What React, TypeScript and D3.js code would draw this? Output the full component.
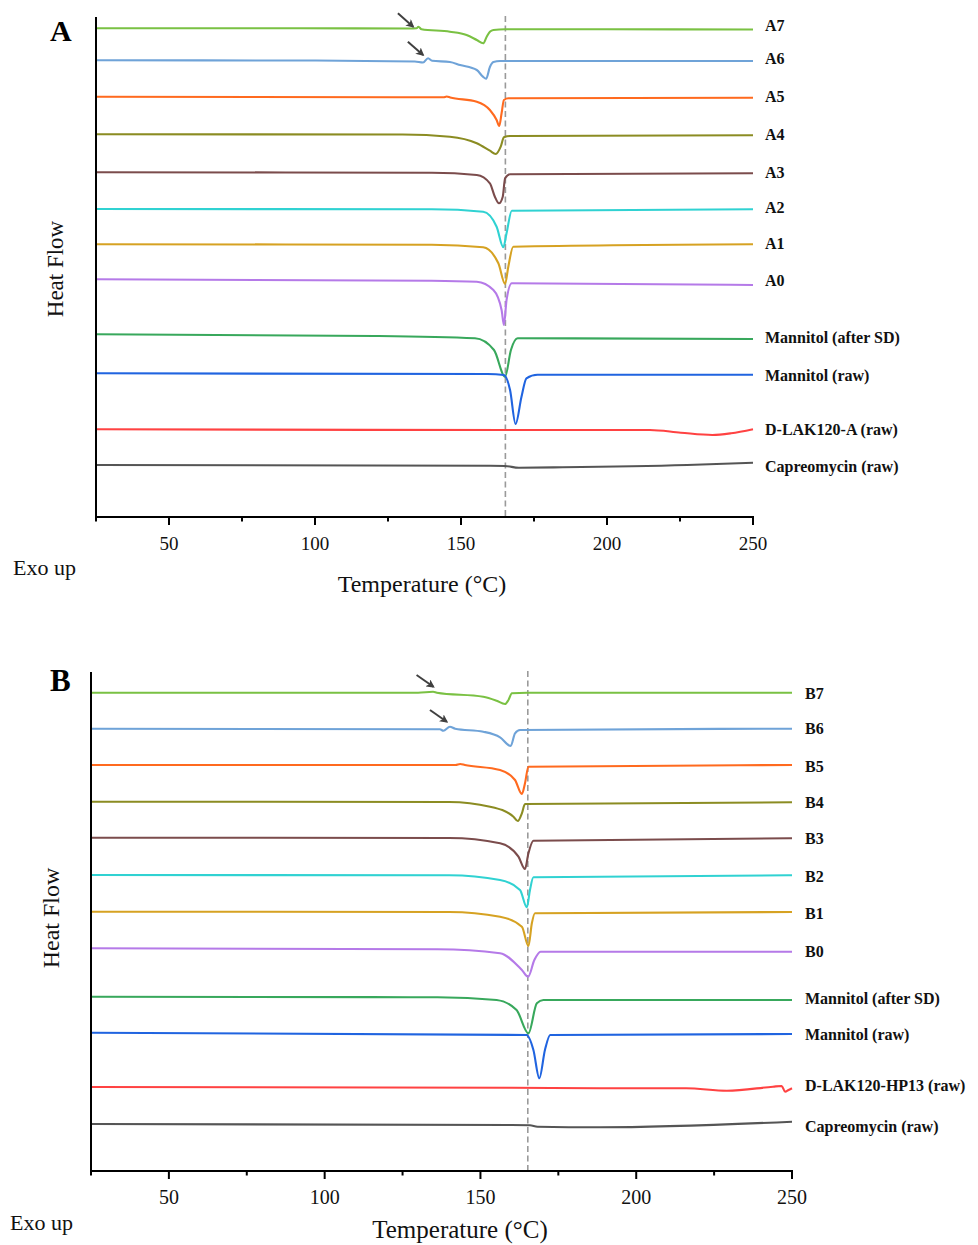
import React from 'react';
import * as d3 from 'd3';

type Pt = [number, number];

// ---------- data ----------
const majorTicks = [50, 100, 150, 200, 250];
const minorTicks = [25, 75, 125, 175, 225];
const tempDomain: [number, number] = [25, 250];
const meltingRefTemp = 165.2;

const seriesColors = [
  '#7ac143', '#6fa3d8', '#ff6a1f', '#8b8c22', '#7b4c4c', '#30d2d2',
  '#d6a222', '#b57ae8', '#38a85c', '#2064e0', '#ff4242', '#555555',
];

const labelsA = ['A7', 'A6', 'A5', 'A4', 'A3', 'A2', 'A1', 'A0',
  'Mannitol (after SD)', 'Mannitol (raw)', 'D-LAK120-A (raw)', 'Capreomycin (raw)'];
const labelsB = ['B7', 'B6', 'B5', 'B4', 'B3', 'B2', 'B1', 'B0',
  'Mannitol (after SD)', 'Mannitol (raw)', 'D-LAK120-HP13 (raw)', 'Capreomycin (raw)'];

// Panel A curves: [temperature °C, heat flow (a.u., stacked)]
const a7: Pt[] = [[25, 488.7], [95, 488.7], [132.5, 488.5], [134.8, 488.7], [135.4, 490.3], [136.5, 487.7], [146.2, 485.3], [151.9, 482], [155.4, 477], [157.6, 473.7], [158.8, 480.3], [159.9, 485.3], [161.1, 487], [165.1, 487.7], [200, 487.7], [250, 487.5]];
const a6: Pt[] = [[25, 456.7], [95, 456.5], [134.2, 455.5], [137, 454.5], [138.7, 458.7], [140.1, 456.2], [146.2, 455], [149.7, 452], [155.4, 447], [157.5, 440.3], [158.6, 438.3], [159.9, 450], [161.1, 455], [163.4, 456], [250, 456]];
const a5: Pt[] = [[25, 420.3], [130, 419.7], [144, 419.7], [145.1, 420.5], [146.3, 419.5], [155.4, 415.3], [159.9, 407], [162.2, 397], [163.1, 391], [163.9, 403.7], [164.7, 417], [166.2, 418.7], [250, 419.3]];
const a4: Pt[] = [[25, 382.7], [130, 382.5], [146.2, 380.3], [155.4, 373.7], [159.9, 366.3], [161.9, 363], [163.6, 370.3], [164.7, 379.7], [166.8, 381], [250, 381.7]];
const a3: Pt[] = [[25, 344.7], [140, 344.3], [155.4, 342], [159.9, 333.7], [161.6, 320.3], [163, 313.7], [164.3, 320.3], [165.1, 338.7], [166.8, 342.7], [250, 343.7]];
const a2: Pt[] = [[25, 308], [140, 307.7], [157.6, 305.3], [162.2, 290.3], [164.5, 269.7], [165.6, 283.7], [167.4, 306.3], [250, 307.7]];
const a1: Pt[] = [[25, 272.7], [140, 272.3], [157.6, 269.7], [162.8, 253.7], [165.1, 233], [166.2, 250.3], [167.9, 270.3], [250, 272.7]];
const a0: Pt[] = [[25, 237.7], [140, 236.3], [155.4, 235.3], [161.1, 227], [163.9, 207], [164.7, 192], [165.6, 217], [167.4, 233.7], [250, 232]];
const aManSD: Pt[] = [[25, 182.7], [120.5, 181], [154.8, 178.7], [161.3, 167], [165.1, 140.3], [167.1, 167], [169.4, 178.7], [250, 178]];
const aManRaw: Pt[] = [[25, 143.7], [159.1, 143], [164.7, 142], [166.8, 127], [168.7, 93], [170.7, 120], [172.4, 138.7], [176.2, 142.3], [250, 142.3]];
const aLak: Pt[] = [[25, 87.7], [165, 87], [214.7, 87], [225.3, 84.3], [236.1, 82], [242.5, 83.7], [250, 87.7]];
const aCap: Pt[] = [[25, 52], [160, 51.2], [165.1, 51], [169.8, 49.3], [184.8, 49.7], [227.5, 52], [250, 54.3]];

// Panel B curves
const b7: Pt[] = [[25, 477.3], [130, 477.3], [134.8, 478.2], [136, 477.3], [150.9, 473.3], [155.2, 469.3], [157.9, 466], [159, 470], [160.1, 476.7], [165, 477.3], [250, 477.3]];
const b6: Pt[] = [[25, 441.3], [137, 440.7], [138.1, 439.3], [140.2, 443.3], [141.9, 441.3], [150.9, 438.3], [156.3, 432.7], [159.7, 424], [161.1, 436.7], [162.7, 440], [250, 441.3]];
const b5: Pt[] = [[25, 405], [142, 405], [143.5, 406], [145, 405], [156.3, 400], [161.1, 390], [163.3, 376], [164.3, 386.7], [165.4, 403.3], [250, 405]];
const b4: Pt[] = [[25, 368.3], [140, 368], [153.1, 363.3], [160.6, 353.3], [162, 349], [163.3, 356.7], [164.3, 366], [250, 367.7]];
const b3: Pt[] = [[25, 332.3], [140, 332], [156.3, 326.7], [162.2, 313.3], [164.3, 301], [165.4, 316.7], [167, 329.3], [250, 331.7]];
const b2: Pt[] = [[25, 295], [140, 294.7], [156.3, 290], [162.7, 280], [164.9, 262.7], [165.9, 280], [167, 292.7], [250, 294.7]];
const b1: Pt[] = [[25, 258.3], [140, 258], [156.3, 253.3], [163.3, 243.3], [165.4, 224], [166.5, 246.7], [167.5, 256.7], [250, 258]];
const b0: Pt[] = [[25, 221.7], [136.2, 220.7], [156.3, 216.7], [163.3, 200], [165.3, 193.3], [167.3, 210], [169.3, 218.3], [250, 218.3]];
const bManSD: Pt[] = [[25, 173.3], [136.2, 172.7], [155.2, 170], [161.6, 160], [165.4, 136.7], [168.1, 166.7], [170.2, 170], [250, 170]];
const bManRaw: Pt[] = [[25, 137.3], [164.8, 135], [167, 120], [168.9, 91.7], [170.7, 120], [172.4, 135], [250, 136]];
const bLak: Pt[] = [[25, 83], [160, 82.3], [188.4, 81.7], [216, 81.7], [229.1, 79.3], [243.9, 83.3], [246.7, 84], [247.8, 78.3], [248.9, 80], [250, 81.7]];
const bCap: Pt[] = [[25, 46], [160, 45], [165.9, 44.7], [168.3, 43.3], [188.4, 42.7], [250, 48.3]];

const seriesA = [a7, a6, a5, a4, a3, a2, a1, a0, aManSD, aManRaw, aLak, aCap];
const seriesB = [b7, b6, b5, b4, b3, b2, b1, b0, bManSD, bManRaw, bLak, bCap];

// arrows marking the small exothermic events: [tail, tip]
const arrowsA: [Pt, Pt][] = [[[128.4, 503.7], [133.6, 490.3]], [[131.8, 475.3], [137, 462]]];
const arrowsB: [Pt, Pt][] = [[[129.5, 495], [134.9, 483.3]], [[133.8, 460], [139.2, 448.3]]];

// ---------- layout ----------
const FONT = "'Liberation Serif', 'Times New Roman', Times, serif";

interface PanelCfg {
  tag: string;
  x0: number; x1: number; yBottom: number; yTop: number;
  hf: [number, number];
  series: Pt[][]; labels: string[]; arrows: [Pt, Pt][];
  labelDx: number; labelNudge: number[];
  tagPos: [number, number]; tagSize: number;
  heatPos: [number, number]; heatSize: number;
  exoPos: [number, number]; exoSize: number;
  tempPos: [number, number]; tempSize: number;
  tickSize: number; tickLabelDy: number;
}

const panels: PanelCfg[] = [
  {
    tag: 'A', x0: 96, x1: 753, yBottom: 517, yTop: 17, hf: [0, 500],
    series: seriesA, labels: labelsA, arrows: arrowsA, labelDx: 12,
    labelNudge: [-4, -3, -1, -1, -1, -2, -1, -5, -2, 1, 0, 4],
    tagPos: [50, 41], tagSize: 30, heatPos: [63, 269], heatSize: 23,
    exoPos: [13, 575], exoSize: 22, tempPos: [422, 592], tempSize: 24,
    tickSize: 19, tickLabelDy: 33,
  },
  {
    tag: 'B', x0: 91, x1: 792, yBottom: 1171, yTop: 672, hf: [-1, 498],
    series: seriesB, labels: labelsB, arrows: arrowsB, labelDx: 13,
    labelNudge: [0.5, 0, 1.5, 0, 0.5, 1.3, 1, -0.7, -2, 0, -2.6, 4.4],
    tagPos: [50, 691], tagSize: 31, heatPos: [59, 918], heatSize: 24,
    exoPos: [10, 1230], exoSize: 22, tempPos: [460, 1238], tempSize: 25,
    tickSize: 20, tickLabelDy: 33,
  },
];

function Panel({ p }: { p: PanelCfg }) {
  const x = d3.scaleLinear().domain(tempDomain).range([p.x0, p.x1]);
  const y = d3.scaleLinear().domain(p.hf).range([p.yBottom, p.yTop]);
  const line = d3.line<Pt>().x(d => x(d[0])).y(d => y(d[1])).curve(d3.curveMonotoneX);
  const mx = x(meltingRefTemp);
  return (
    <g>
      <line x1={mx} x2={mx} y1={p.yTop - 1} y2={p.yBottom} stroke="#9a9a9a" strokeWidth={1.6} strokeDasharray="6,3.5" />
      {p.series.map((s, i) => (
        <path key={i} d={line(s) || ''} fill="none" stroke={seriesColors[i]} strokeWidth={2.1} strokeLinejoin="round" />
      ))}
      {p.series.map((s, i) => (
        <text key={'l' + i} x={p.x1 + p.labelDx} y={y(s[s.length - 1][1]) + p.labelNudge[i]} dy="0.35em"
          fontFamily={FONT} fontWeight="bold" fontSize={16} fill="#111">{p.labels[i]}</text>
      ))}
      {p.arrows.map((a, i) => (
        <line key={'a' + i} x1={x(a[0][0])} y1={y(a[0][1])} x2={x(a[1][0])} y2={y(a[1][1])}
          stroke="#404040" strokeWidth={2} markerEnd="url(#arrowhead)" />
      ))}
      <line x1={p.x0} x2={p.x0} y1={p.yTop} y2={p.yBottom + 1} stroke="#000" strokeWidth={2} />
      <line x1={p.x0 - 1} x2={p.x1 + 1} y1={p.yBottom} y2={p.yBottom} stroke="#000" strokeWidth={2} />
      {majorTicks.map(t => (
        <g key={'M' + t}>
          <line x1={x(t)} x2={x(t)} y1={p.yBottom} y2={p.yBottom + 8} stroke="#000" strokeWidth={2} />
          <text x={x(t)} y={p.yBottom + p.tickLabelDy} textAnchor="middle" fontFamily={FONT} fontSize={p.tickSize} fill="#111">{t}</text>
        </g>
      ))}
      {minorTicks.map(t => (
        <line key={'m' + t} x1={x(t)} x2={x(t)} y1={p.yBottom} y2={p.yBottom + 4.5} stroke="#000" strokeWidth={2} />
      ))}
      <text x={p.tagPos[0]} y={p.tagPos[1]} fontFamily={FONT} fontWeight="bold" fontSize={p.tagSize} fill="#000">{p.tag}</text>
      <text transform={`translate(${p.heatPos[0]},${p.heatPos[1]}) rotate(-90)`} textAnchor="middle"
        fontFamily={FONT} fontSize={p.heatSize} fill="#111">Heat Flow</text>
      <text x={p.exoPos[0]} y={p.exoPos[1]} fontFamily={FONT} fontSize={p.exoSize} fill="#111">Exo up</text>
      <text x={p.tempPos[0]} y={p.tempPos[1]} textAnchor="middle" fontFamily={FONT} fontSize={p.tempSize} fill="#111">Temperature (°C)</text>
    </g>
  );
}

export default function App() {
  return (
    <svg width={978} height={1245} viewBox="0 0 978 1245"
      style={{ position: 'absolute', left: 0, top: 0, background: '#fff' }}>
      <defs>
        <marker id="arrowhead" viewBox="0 0 10 10" refX={8} refY={5} markerWidth={4.2} markerHeight={4.2} orient="auto">
          <path d="M0,0 L10,5 L0,10 L2.5,5 z" fill="#404040" />
        </marker>
      </defs>
      <rect x={0} y={0} width={978} height={1245} fill="#fff" />
      {panels.map(p => <Panel key={p.tag} p={p} />)}
    </svg>
  );
}
